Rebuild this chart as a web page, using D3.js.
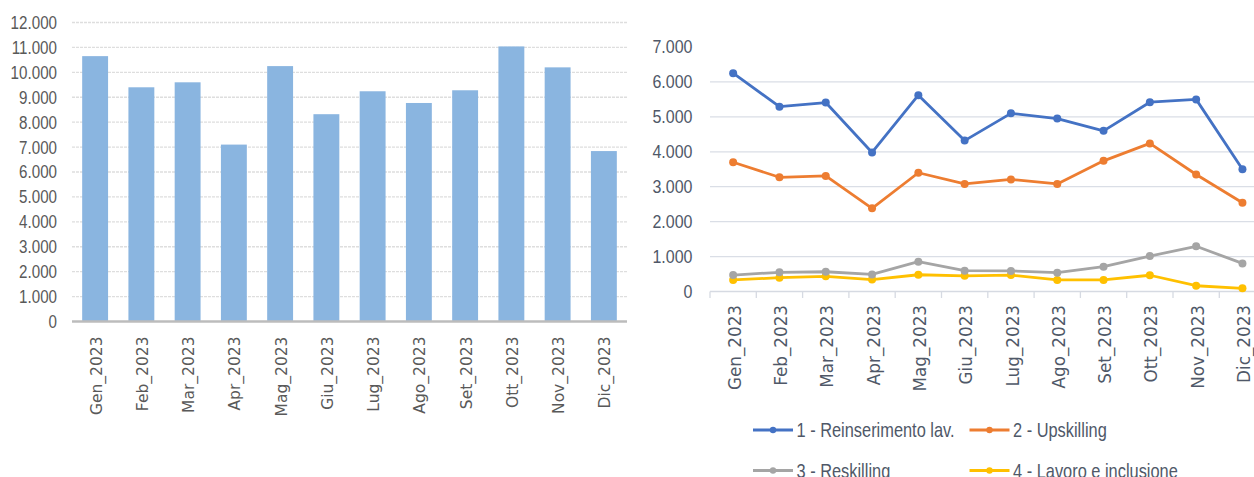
<!DOCTYPE html>
<html>
<head>
<meta charset="utf-8">
<script src="https://cdn.jsdelivr.net/npm/d3@7"></script>
<style>
  html, body { margin: 0; padding: 0; background: #ffffff; }
  svg { display: block; }
</style>
</head>
<body>
<svg id="chart" width="1254" height="477"></svg>
<script>
// ---- data ----
const months = ["Gen_2023","Feb_2023","Mar_2023","Apr_2023","Mag_2023","Giu_2023","Lug_2023","Ago_2023","Set_2023","Ott_2023","Nov_2023","Dic_2023"];
const totals = [10650, 9400, 9600, 7100, 10250, 8320, 9240, 8770, 9280, 11040, 10200, 6840];
const leftTicks = [0,1000,2000,3000,4000,5000,6000,7000,8000,9000,10000,11000,12000];

const seriesNames = ["1 - Reinserimento lav.", "2 - Upskilling", "3 - Reskilling", "4 - Lavoro e inclusione"];
const reinserimento = [6250, 5290, 5410, 3980, 5620, 4320, 5100, 4950, 4600, 5420, 5500, 3500];
const upskilling    = [3700, 3270, 3310, 2380, 3400, 3080, 3210, 3080, 3740, 4240, 3350, 2540];
const reskilling    = [470, 550, 565, 490, 855, 595, 590, 540, 710, 1015, 1295, 805];
const lavoroIncl    = [330, 395, 435, 340, 480, 450, 470, 330, 330, 465, 165, 90];
const rightTicks = [0,1000,2000,3000,4000,5000,6000,7000];
const seriesColors = ["#4472C4", "#ED7D31", "#A5A5A5", "#FFC000"];

const fmt = v => d3.format(",")(v).replace(/,/g, ".");
const SANS = "'Liberation Sans', Arial, sans-serif";

const svg = d3.select("#chart");

// ================= LEFT BAR CHART =================
const L = { x0: 72, x1: 627, yTop: 22.5, yBot: 321.5 };
const xL = d3.scaleBand().domain(months).range([L.x0, L.x1]).paddingInner(0.44).paddingOuter(0.22);
const yL = d3.scaleLinear().domain([0, 12000]).range([L.yBot, L.yTop]);

const gL = svg.append("g");
gL.selectAll("line.grid").data(leftTicks.filter(t => t > 0)).join("line")
  .attr("class", "grid")
  .attr("x1", L.x0).attr("x2", L.x1)
  .attr("y1", d => yL(d)).attr("y2", d => yL(d))
  .attr("stroke", "#dedede").attr("stroke-width", 1.3).attr("stroke-dasharray", "3,1");

gL.selectAll("rect.bar").data(totals).join("rect")
  .attr("class", "bar")
  .attr("x", (d, i) => xL(months[i]))
  .attr("width", xL.bandwidth())
  .attr("y", d => yL(d))
  .attr("height", d => yL(0) - yL(d))
  .attr("fill", "#8AB5E0");

gL.append("line")
  .attr("x1", L.x0).attr("x2", L.x1)
  .attr("y1", yL(0)).attr("y2", yL(0))
  .attr("stroke", "#bcbcbc").attr("stroke-width", 2.6);

gL.selectAll("text.ytick").data(leftTicks).join("text")
  .attr("class", "ytick")
  .attr("transform", d => `translate(57,${yL(d)}) scale(0.82,1)`)
  .attr("dy", "0.35em")
  .attr("text-anchor", "end")
  .attr("font-family", SANS)
  .attr("font-size", 18.5).attr("fill", "#595959")
  .text(d => fmt(d));

gL.selectAll("text.xtick").data(months).join("text")
  .attr("class", "xtick")
  .attr("transform", d => `translate(${xL(d) + xL.bandwidth() / 2 + 1},336.5) rotate(-90)`)
  .attr("text-anchor", "end").attr("dy", "0.36em")
  .attr("font-family", "'DejaVu Sans', sans-serif")
  .attr("font-size", 15.5).attr("fill", "#595959")
  .text(d => d);

// ================= RIGHT LINE CHART =================
const R = { x0: 710, x1: 1265.6, yTop: 47, yBot: 291.5 };
const xR = d3.scaleBand().domain(months).range([R.x0, R.x1]);
const yR = d3.scaleLinear().domain([0, 7000]).range([R.yBot, R.yTop]);
const cx = m => xR(m) + xR.bandwidth() / 2;

const gR = svg.append("g");
gR.selectAll("line.grid").data(rightTicks.filter(t => t > 0 && t < 7000)).join("line")
  .attr("class", "grid")
  .attr("x1", R.x0).attr("x2", 1254)
  .attr("y1", d => yR(d)).attr("y2", d => yR(d))
  .attr("stroke", "#dadee6").attr("stroke-width", 1.3);

// x axis line + ticks
gR.append("line")
  .attr("x1", R.x0).attr("x2", 1254)
  .attr("y1", yR(0)).attr("y2", yR(0))
  .attr("stroke", "#d6dae2").attr("stroke-width", 1.3);
gR.selectAll("line.xt").data(months.map(m => xR(m))).join("line")
  .attr("class", "xt")
  .attr("x1", d => d).attr("x2", d => d)
  .attr("y1", yR(0)).attr("y2", yR(0) + 6.5)
  .attr("stroke", "#d6dae2").attr("stroke-width", 1.3);

gR.selectAll("text.ytick").data(rightTicks).join("text")
  .attr("class", "ytick")
  .attr("transform", d => `translate(692.5,${yR(d)}) scale(0.89,1)`)
  .attr("dy", "0.35em")
  .attr("text-anchor", "end")
  .attr("font-family", SANS)
  .attr("font-size", 18).attr("fill", "#4f5868")
  .text(d => fmt(d));

gR.selectAll("text.xtick").data(months).join("text")
  .attr("class", "xtick")
  .attr("transform", d => `translate(${cx(d) + 1.5},305) rotate(-90)`)
  .attr("text-anchor", "end").attr("dy", "0.36em")
  .attr("font-family", "'DejaVu Sans', sans-serif")
  .attr("font-size", 16.8).attr("fill", "#4f5868")
  .text(d => d);

const allSeries = [reinserimento, upskilling, reskilling, lavoroIncl];
const line = d3.line().x((d, i) => cx(months[i])).y(d => yR(d));
// draw in reverse so series 1 is on top
allSeries.map((s, k) => ({ s, k })).reverse().forEach(({ s, k }) => {
  gR.append("path")
    .datum(s)
    .attr("d", line)
    .attr("fill", "none")
    .attr("stroke", seriesColors[k])
    .attr("stroke-width", 2.8)
    .attr("stroke-linejoin", "round");
  gR.selectAll(null).data(s).join("circle")
    .attr("cx", (d, i) => cx(months[i]))
    .attr("cy", d => yR(d))
    .attr("r", 4)
    .attr("fill", seriesColors[k]);
});

// legend
const legendPos = [
  { x: 753, y: 430 }, { x: 969.5, y: 430 },
  { x: 753, y: 470.5 }, { x: 969.5, y: 470.5 }
];
const lg = svg.append("g");
seriesNames.forEach((name, k) => {
  const p = legendPos[k];
  const g = lg.append("g").attr("transform", `translate(${p.x},${p.y})`);
  g.append("line").attr("x1", 0).attr("x2", 40).attr("y1", 0).attr("y2", 0)
    .attr("stroke", seriesColors[k]).attr("stroke-width", 2.8);
  g.append("circle").attr("cx", 20).attr("cy", 0).attr("r", 3.2).attr("fill", seriesColors[k]);
  g.append("text")
    .attr("transform", "translate(43.5,0) scale(0.82,1)")
    .attr("dy", "0.35em")
    .attr("font-family", SANS)
    .attr("font-size", 20).attr("fill", "#4f5868")
    .text(name);
});
</script>
</body>
</html>
